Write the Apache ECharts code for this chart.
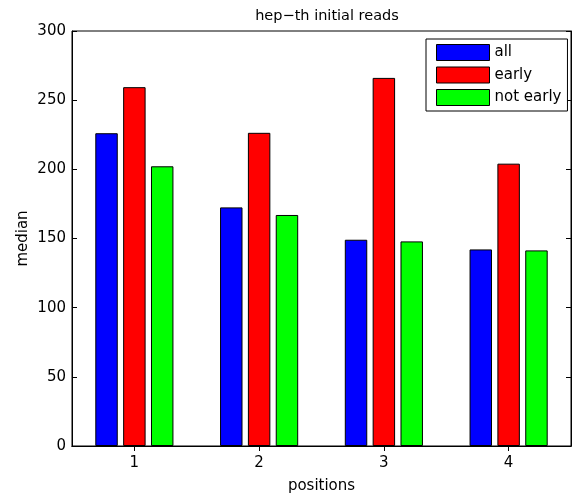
<!DOCTYPE html>
<html>
<head>
<meta charset="utf-8">
<script src="https://cdn.jsdelivr.net/npm/echarts@6/dist/echarts.min.js"></script>
<style>
html,body{margin:0;padding:0;background:#fff;}
#c{width:579px;height:499px;}
</style>
</head>
<body>
<div id="c"></div>
<script>
const categories = ['1', '2', '3', '4'];
const allValues = [226.1, 172.5, 149.1, 142.1];
const earlyValues = [259.4, 226.4, 266.1, 204.1];
const notEarlyValues = [202.2, 167.0, 147.9, 141.4];
const yTicks = [0, 50, 100, 150, 200, 250, 300];

const FONT = 'DejaVu Sans, Liberation Sans, Arial, sans-serif';
const chart = echarts.init(document.getElementById('c'), null, {renderer: 'canvas'});

const barStyle = (color) => ({color: color, borderColor: '#000', borderWidth: 1});

const option = {
  backgroundColor: '#fff',
  animation: false,
  title: {
    text: 'hep\u2212th initial reads',
    left: 322, top: 4, textAlign: 'center',
    textStyle: {fontFamily: FONT, fontSize: 14.5, fontWeight: 'normal', color: '#000'}
  },
  legend: {
    orient: 'vertical',
    left: 426, top: 39,
    padding: [5, 6, 5, 10],
    itemWidth: 53, itemHeight: 16, itemGap: 5.5,
    borderColor: '#000', borderWidth: 1,
    backgroundColor: '#fff',
    textStyle: {fontFamily: FONT, fontSize: 15, color: '#000', padding: [0, 0, 0, 0]},
    itemStyle: {borderColor: '#000', borderWidth: 1},
    icon: 'rect',
    data: ['all', 'early', 'not early']
  },
  grid: {left: 72, right: 8, top: 31, bottom: 50, show: true, borderColor: '#000', borderWidth: 1, containLabel: false},
  xAxis: [{
    type: 'category',
    data: categories,
    position: 'bottom',
    name: 'positions',
    nameLocation: 'middle',
    nameGap: 33,
    nameMoveOverlap: false,
    nameTextStyle: {fontFamily: FONT, fontSize: 15, color: '#000'},
    axisLine: {show: true, lineStyle: {color: '#000', width: 1}},
    axisTick: {show: true, inside: true, length: 5, alignWithLabel: true, lineStyle: {color: '#000'}},
    axisLabel: {fontFamily: FONT, fontSize: 15, color: '#000', margin: 10},
    splitLine: {show: false}
  }, {
    type: 'category',
    data: categories,
    position: 'top',
    axisLine: {show: true, lineStyle: {color: '#000', width: 1}},
    axisTick: {show: true, inside: true, length: 5, alignWithLabel: true, lineStyle: {color: '#000'}},
    axisLabel: {show: false},
    splitLine: {show: false}
  }],
  yAxis: [{
    type: 'value',
    min: yTicks[0], max: yTicks[yTicks.length - 1], interval: 50,
    position: 'left',
    name: 'median',
    nameLocation: 'middle',
    nameGap: 41,
    nameMoveOverlap: false,
    nameRotate: 90,
    nameTextStyle: {fontFamily: FONT, fontSize: 15, color: '#000'},
    axisLine: {show: true, lineStyle: {color: '#000', width: 1}},
    axisTick: {show: true, inside: true, length: 5, lineStyle: {color: '#000'}},
    axisLabel: {fontFamily: FONT, fontSize: 15, color: '#000', margin: 6},
    splitLine: {show: false}
  }, {
    type: 'value',
    min: yTicks[0], max: yTicks[yTicks.length - 1], interval: 50,
    position: 'right',
    axisLine: {show: true, lineStyle: {color: '#000', width: 1}},
    axisTick: {show: true, inside: true, length: 5, lineStyle: {color: '#000'}},
    axisLabel: {show: false},
    splitLine: {show: false}
  }],
  series: [
    {name: 'all', type: 'bar', data: allValues, barWidth: '18%', barGap: '24%', itemStyle: barStyle('#0000ff')},
    {name: 'early', type: 'bar', data: earlyValues, barWidth: '18%', barGap: '24%', itemStyle: barStyle('#ff0000')},
    {name: 'not early', type: 'bar', data: notEarlyValues, barWidth: '18%', barGap: '24%', itemStyle: barStyle('#00ff00')}
  ]
};
chart.setOption(option);
</script>
</body>
</html>
